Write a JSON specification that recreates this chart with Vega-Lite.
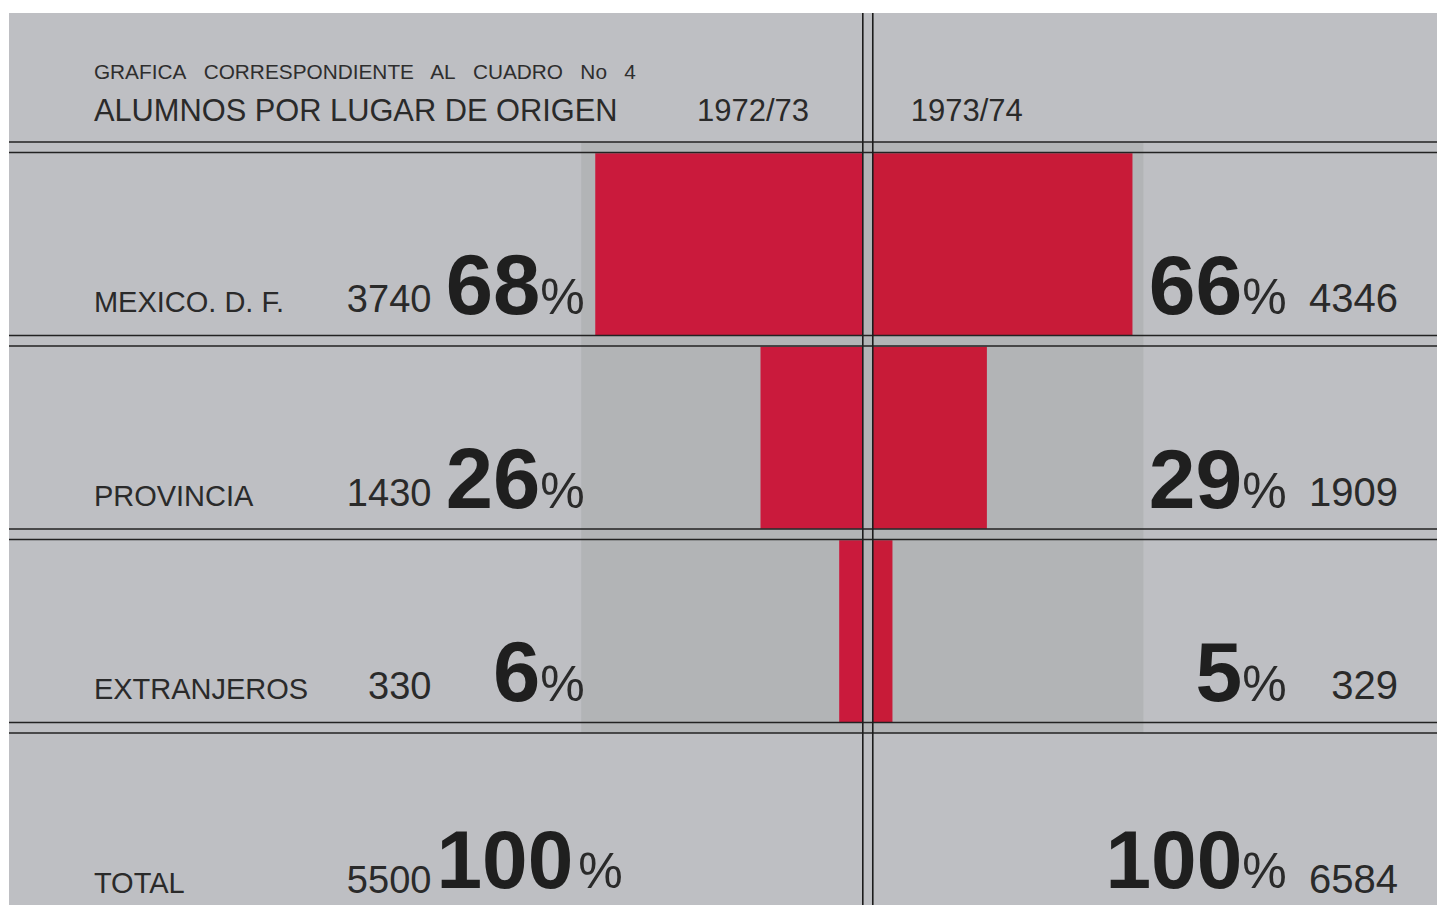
{
  "$schema": "https://vega.github.io/schema/vega-lite/v6.json",
  "width": 1438,
  "height": 906,
  "autosize": {"type": "fit", "contains": "padding"},
  "padding": {"left": 8, "top": 12, "right": 0, "bottom": 0},
  "background": "#ffffff",
  "config": {
    "view": {"stroke": null, "fill": "#bebfc3"},
    "axis": {"disable": true},
    "legend": {"disable": true},
    "font": "Liberation Sans"
  },
  "datasets": {
    "alumnos": [
      {"origen": "MEXICO", "etiqueta": "MEXICO. D. F.", "anio": "1972/73", "alumnos": 3740, "pct": 68},
      {"origen": "MEXICO", "etiqueta": "MEXICO. D. F.", "anio": "1973/74", "alumnos": 4346, "pct": 66},
      {"origen": "PROVINCIA", "etiqueta": "PROVINCIA", "anio": "1972/73", "alumnos": 1430, "pct": 26},
      {"origen": "PROVINCIA", "etiqueta": "PROVINCIA", "anio": "1973/74", "alumnos": 1909, "pct": 29},
      {"origen": "EXTRANJEROS", "etiqueta": "EXTRANJEROS", "anio": "1972/73", "alumnos": 330, "pct": 6},
      {"origen": "EXTRANJEROS", "etiqueta": "EXTRANJEROS", "anio": "1973/74", "alumnos": 329, "pct": 5},
      {"origen": "TOTAL", "etiqueta": "TOTAL", "anio": "1972/73", "alumnos": 5500, "pct": 100},
      {"origen": "TOTAL", "etiqueta": "TOTAL", "anio": "1973/74", "alumnos": 6584, "pct": 100}
    ],
    "encabezado": [
      {"titulo": "GRAFICA\u00a0\u00a0 CORRESPONDIENTE\u00a0\u00a0 AL\u00a0\u00a0 CUADRO\u00a0\u00a0 No\u00a0\u00a0 4", "subtitulo": "ALUMNOS POR LUGAR DE ORIGEN"}
    ]
  },
  "data": {"name": "alumnos"},
  "layer": [
    {
      "layer": [
        {
          "data": {"name": "encabezado"},
          "mark": {"type": "rect", "fill": "#b2b4b6", "y2Offset": -86.25},
          "encoding": {
            "x": {"datum": -74.11, "scale": {"domain": [-219.543, 143.401], "nice": false, "zero": false}},
            "x2": {"datum": 68.78},
            "y": {"datum": "MEXICO", "bandPosition": 0, "scale": {"type": "band", "domain": ["MEXICO", "PROVINCIA", "EXTRANJEROS", "TOTAL"], "range": [129, 903], "paddingInner": 0, "paddingOuter": 0}},
            "y2": {"datum": "TOTAL"}
          }
        },
        {
          "transform": [{"filter": "datum.anio == '1973/74' && datum.origen != 'TOTAL'"}],
          "mark": {"type": "bar", "fill": "#c81b38", "height": {"band": 0.94}, "yOffset": 5.5},
          "encoding": {
            "x": {"field": "pct", "type": "quantitative", "scale": {"domain": [-219.543, 143.401], "nice": false, "zero": false}},
            "x2": {"datum": 0},
            "y": {"field": "origen", "type": "nominal", "scale": {"type": "band", "domain": ["MEXICO", "PROVINCIA", "EXTRANJEROS", "TOTAL"], "range": [129, 903], "paddingInner": 0, "paddingOuter": 0}}
          }
        }
      ]
    },
    {
      "layer": [
        {
          "transform": [{"filter": "datum.anio == '1972/73' && datum.origen != 'TOTAL'"}],
          "mark": {"type": "bar", "fill": "#ca1a3c", "height": {"band": 0.94}, "yOffset": 5.5},
          "encoding": {
            "x": {"field": "pct", "type": "quantitative", "scale": {"domain": [-145.939, 217.005], "reverse": true, "nice": false, "zero": false}},
            "x2": {"datum": 0},
            "y": {"field": "origen", "type": "nominal", "scale": {"type": "band", "domain": ["MEXICO", "PROVINCIA", "EXTRANJEROS", "TOTAL"], "range": [129, 903], "paddingInner": 0, "paddingOuter": 0}}
          }
        },
        {
          "data": {"name": "encabezado"},
          "mark": {"type": "rule", "stroke": "#1c1c1c", "strokeWidth": 1.6},
          "encoding": {
            "x": {"datum": 0, "scale": {"domain": [-145.939, 217.005], "reverse": true, "nice": false, "zero": false}}
          }
        }
      ]
    },
    {
      "layer": [
        {
          "transform": [{"filter": "datum.anio == '1972/73'"}],
          "mark": {"type": "rule", "stroke": "#222222", "strokeWidth": 1.5},
          "encoding": {
            "y": {"field": "origen", "type": "nominal", "bandPosition": 0, "scale": {"type": "band", "domain": ["MEXICO", "PROVINCIA", "EXTRANJEROS", "TOTAL"], "range": [129, 903], "paddingInner": 0, "paddingOuter": 0}}
          }
        },
        {
          "transform": [{"filter": "datum.anio == '1972/73'"}],
          "mark": {"type": "rule", "stroke": "#222222", "strokeWidth": 1.5, "yOffset": 10.5},
          "encoding": {
            "y": {"field": "origen", "type": "nominal", "bandPosition": 0}
          }
        },
        {
          "data": {"name": "encabezado"},
          "mark": {"type": "rule", "stroke": "#1c1c1c", "strokeWidth": 1.6},
          "encoding": {
            "x": {"datum": 0, "scale": {"domain": [-219.543, 143.401], "nice": false, "zero": false}}
          }
        },
        {
          "data": {"name": "encabezado"},
          "mark": {"type": "text", "align": "left", "baseline": "alphabetic", "fontSize": 20.8, "fill": "#2e2e2e", "dy": -63},
          "encoding": {
            "x": {"datum": -197.97},
            "y": {"datum": "MEXICO", "bandPosition": 0},
            "text": {"field": "titulo"}
          }
        },
        {
          "data": {"name": "encabezado"},
          "mark": {"type": "text", "align": "left", "baseline": "alphabetic", "fontSize": 30.8, "fill": "#2a2a2a", "dy": -21},
          "encoding": {
            "x": {"datum": -197.97},
            "y": {"datum": "MEXICO", "bandPosition": 0},
            "text": {"field": "subtitulo"}
          }
        },
        {
          "transform": [{"filter": "datum.origen == 'MEXICO' && datum.anio == '1972/73'"}],
          "mark": {"type": "text", "align": "left", "baseline": "alphabetic", "fontSize": 31, "fill": "#2a2a2a", "dy": -21},
          "encoding": {
            "x": {"datum": -44.67},
            "y": {"datum": "MEXICO", "bandPosition": 0},
            "text": {"field": "anio"}
          }
        },
        {
          "transform": [{"filter": "datum.origen == 'MEXICO' && datum.anio == '1973/74'"}],
          "mark": {"type": "text", "align": "left", "baseline": "alphabetic", "fontSize": 31, "fill": "#2a2a2a", "dy": -21},
          "encoding": {
            "x": {"datum": 9.64},
            "y": {"datum": "MEXICO", "bandPosition": 0},
            "text": {"field": "anio"}
          }
        },
        {
          "transform": [{"filter": "datum.anio == '1972/73'"}],
          "mark": {"type": "text", "align": "left", "baseline": "alphabetic", "fontSize": 29, "fill": "#2a2a2a"},
          "encoding": {
            "x": {"datum": -197.97},
            "y": {"field": "origen", "type": "nominal", "bandPosition": 0.88},
            "text": {"field": "etiqueta"}
          }
        },
        {
          "transform": [{"filter": "datum.anio == '1972/73'"}],
          "mark": {"type": "text", "align": "right", "baseline": "alphabetic", "fontSize": 38, "fill": "#2a2a2a"},
          "encoding": {
            "x": {"datum": -112.18},
            "y": {"field": "origen", "type": "nominal", "bandPosition": 0.88},
            "text": {"field": "alumnos", "type": "quantitative", "format": "d"}
          }
        },
        {
          "transform": [{"filter": "datum.anio == '1972/73' && datum.origen != 'TOTAL'"}],
          "mark": {"type": "text", "align": "right", "baseline": "alphabetic", "fontSize": 85, "fontWeight": "bold", "fill": "#1f1f1f"},
          "encoding": {
            "x": {"datum": -84.52},
            "y": {"field": "origen", "type": "nominal", "bandPosition": 0.889},
            "text": {"field": "pct", "type": "quantitative", "format": "d"}
          }
        },
        {
          "transform": [{"filter": "datum.anio == '1972/73' && datum.origen != 'TOTAL'"}],
          "mark": {"type": "text", "align": "left", "baseline": "alphabetic", "fontSize": 50, "fill": "#2a2a2a"},
          "encoding": {
            "x": {"datum": -84.52},
            "y": {"field": "origen", "type": "nominal", "bandPosition": 0.889},
            "text": {"value": "%"}
          }
        },
        {
          "transform": [{"filter": "datum.anio == '1972/73' && datum.origen == 'TOTAL'"}],
          "mark": {"type": "text", "align": "left", "baseline": "alphabetic", "fontSize": 82, "fontWeight": "bold", "fill": "#1f1f1f"},
          "encoding": {
            "x": {"datum": -110.9},
            "y": {"field": "origen", "type": "nominal", "bandPosition": 0.853},
            "text": {"field": "pct", "type": "quantitative", "format": "d"}
          }
        },
        {
          "transform": [{"filter": "datum.anio == '1972/73' && datum.origen == 'TOTAL'"}],
          "mark": {"type": "text", "align": "left", "baseline": "alphabetic", "fontSize": 50, "fill": "#2a2a2a"},
          "encoding": {
            "x": {"datum": -74.87},
            "y": {"field": "origen", "type": "nominal", "bandPosition": 0.853},
            "text": {"value": "%"}
          }
        },
        {
          "transform": [{"filter": "datum.anio == '1973/74' && datum.origen != 'TOTAL'"}],
          "mark": {"type": "text", "align": "right", "baseline": "alphabetic", "fontSize": 84, "fontWeight": "bold", "fill": "#1f1f1f"},
          "encoding": {
            "x": {"datum": 93.91},
            "y": {"field": "origen", "type": "nominal", "bandPosition": 0.889},
            "text": {"field": "pct", "type": "quantitative", "format": "d"}
          }
        },
        {
          "transform": [{"filter": "datum.anio == '1973/74' && datum.origen != 'TOTAL'"}],
          "mark": {"type": "text", "align": "left", "baseline": "alphabetic", "fontSize": 50, "fill": "#2a2a2a"},
          "encoding": {
            "x": {"datum": 93.91},
            "y": {"field": "origen", "type": "nominal", "bandPosition": 0.889},
            "text": {"value": "%"}
          }
        },
        {
          "transform": [{"filter": "datum.anio == '1973/74' && datum.origen == 'TOTAL'"}],
          "mark": {"type": "text", "align": "right", "baseline": "alphabetic", "fontSize": 82, "fontWeight": "bold", "fill": "#1f1f1f"},
          "encoding": {
            "x": {"datum": 93.91},
            "y": {"field": "origen", "type": "nominal", "bandPosition": 0.853},
            "text": {"field": "pct", "type": "quantitative", "format": "d"}
          }
        },
        {
          "transform": [{"filter": "datum.anio == '1973/74' && datum.origen == 'TOTAL'"}],
          "mark": {"type": "text", "align": "left", "baseline": "alphabetic", "fontSize": 50, "fill": "#2a2a2a"},
          "encoding": {
            "x": {"datum": 93.91},
            "y": {"field": "origen", "type": "nominal", "bandPosition": 0.853},
            "text": {"value": "%"}
          }
        },
        {
          "transform": [{"filter": "datum.anio == '1973/74'"}],
          "mark": {"type": "text", "align": "right", "baseline": "alphabetic", "fontSize": 40, "fill": "#2a2a2a"},
          "encoding": {
            "x": {"datum": 133.5},
            "y": {"field": "origen", "type": "nominal", "bandPosition": 0.88},
            "text": {"field": "alumnos", "type": "quantitative", "format": "d"}
          }
        }
      ]
    }
  ],
  "resolve": {"scale": {"x": "independent"}}
}
